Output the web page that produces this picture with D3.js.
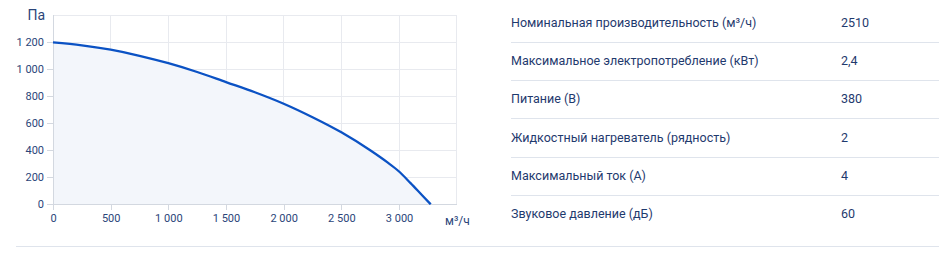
<!DOCTYPE html>
<html><head><meta charset="utf-8">
<script src="https://cdn.jsdelivr.net/npm/d3@7/dist/d3.min.js"></script>
<style>
html,body{margin:0;padding:0;background:#fff;}
svg{display:block;font-family:Roboto,"Noto Sans",sans-serif;}
</style></head>
<body><svg id="c" width="939" height="263"></svg>
<script>
const flow = [0, 250, 500, 750, 1000, 1250, 1500, 1750, 2000, 2250, 2500, 2750, 2900, 3000, 3100, 3200, 3275];
const pressure = [1200, 1178, 1145, 1100, 1045, 980, 905, 830, 745, 645, 533, 400, 310, 243, 157, 67, 0];
const xTicks = [0, 500, 1000, 1500, 2000, 2500, 3000, 3500];
const yTicks = [0, 200, 400, 600, 800, 1000, 1200, 1400];
const specLabels = ["Номинальная производительность (м³/ч)", "Максимальное электропотребление (кВт)", "Питание (В)", "Жидкостный нагреватель (рядность)", "Максимальный ток (А)", "Звуковое давление (дБ)"];
const specValues = ["2510", "2,4", "380", "2", "4", "60"];

const svg = d3.select("#c");
const loc = d3.formatLocale({decimal: ",", thousands: "\u00a0", grouping: [3], currency: ["", ""]});
const fmt = loc.format(",d");
const x = d3.scaleLinear().domain([0, 3500]).range([53, 456.7]);
const y = d3.scaleLinear().domain([0, 1400]).range([204.3, 15.3]);
const textCol = "#2b4579";
const gridCol = "#e8eaef";

// grid
const g = svg.append("g");
g.selectAll(".vg").data(xTicks).join("line")
  .attr("x1", d => x(d)).attr("x2", d => x(d)).attr("y1", y(1400)).attr("y2", y(0))
  .attr("stroke", gridCol).attr("stroke-width", 1).attr("shape-rendering", "crispEdges");
g.selectAll(".hg").data(yTicks).join("line")
  .attr("x1", x(0)).attr("x2", x(3500)).attr("y1", d => y(d)).attr("y2", d => y(d))
  .attr("stroke", gridCol).attr("stroke-width", 1).attr("shape-rendering", "crispEdges");

// area + line
const pts = flow.map((f, i) => [f, pressure[i]]);
svg.append("path").datum(pts)
  .attr("d", d3.area().x(d => x(d[0])).y0(y(0)).y1(d => y(d[1])).curve(d3.curveMonotoneX))
  .attr("fill", "#f3f6fb");

// axes
const xAxis = svg.append("g").attr("transform", `translate(0,${y(0)})`)
  .call(d3.axisBottom(x).tickValues(xTicks.slice(0, 7)).tickFormat(fmt).tickSize(6).tickPadding(4));
const yAxis = svg.append("g").attr("transform", `translate(${x(0)},0)`)
  .call(d3.axisLeft(y).tickValues(yTicks.slice(0, 7)).tickFormat(fmt).tickSize(6).tickPadding(3));
[xAxis, yAxis].forEach(a => {
  a.select(".domain").attr("stroke", "#d3d8e0").attr("shape-rendering", "crispEdges");
  a.selectAll(".tick line").attr("stroke", "#d3d8e0").attr("shape-rendering", "crispEdges");
  a.selectAll("text").attr("fill", textCol).attr("font-size", "11px").attr("font-family", "Roboto, sans-serif");
});
xAxis.select(".domain").attr("d", `M${x(0)},0.5H${x(3500)}`);
yAxis.select(".domain").attr("d", `M0.5,${y(0)}V${y(1400)}`);

svg.append("path").datum(pts)
  .attr("d", d3.line().x(d => x(d[0])).y(d => y(d[1])).curve(d3.curveMonotoneX))
  .attr("fill", "none").attr("stroke", "#0b52c4").attr("stroke-width", 2.3);

svg.append("text").attr("x", 45).attr("y", 20).attr("text-anchor", "end")
  .attr("fill", textCol).attr("font-size", "14px").text("Па");
svg.append("text").attr("x", 445).attr("y", 225)
  .attr("fill", textCol).attr("font-size", "12px").text("м³/ч");

// spec table
const rowY = d3.scaleLinear().domain([0, 1]).range([22.5, 60.8]);
const tbl = svg.append("g");
specLabels.forEach((lab, i) => {
  tbl.append("text").attr("x", 511).attr("y", rowY(i)).attr("dy", "0.35em")
    .attr("fill", "#1f3a6e").attr("font-size", "12.5px").text(lab);
  tbl.append("text").attr("x", 841).attr("y", rowY(i)).attr("dy", "0.35em")
    .attr("fill", "#1f3a6e").attr("font-size", "12.5px").text(specValues[i]);
  if (i < specLabels.length - 1) {
    tbl.append("line").attr("x1", 511).attr("x2", 939)
      .attr("y1", Math.round(rowY(i + 0.5)) + 0.5).attr("y2", Math.round(rowY(i + 0.5)) + 0.5)
      .attr("stroke", "#dfe4ec");
  }
});
svg.append("line").attr("x1", 16).attr("x2", 939).attr("y1", 246.5).attr("y2", 246.5).attr("stroke", "#dfe4ec");
</script></body></html>
